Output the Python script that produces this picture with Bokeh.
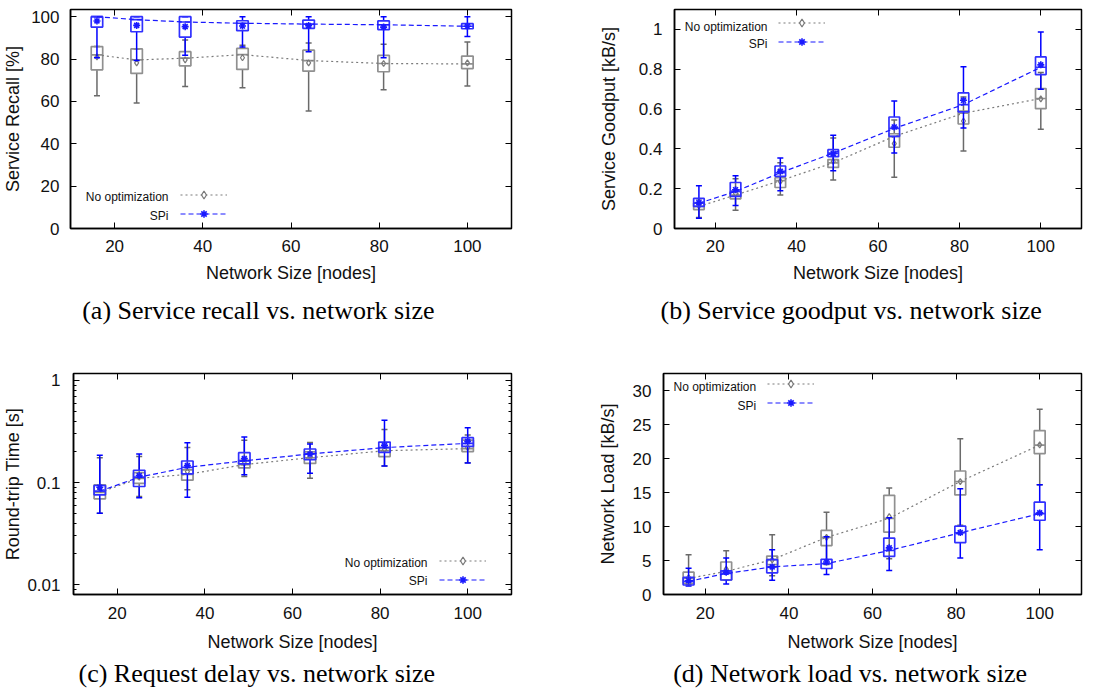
import numpy as np
from bokeh.plotting import figure
from bokeh.models import (Range1d, FixedTicker, LinearAxis, LogAxis, Legend,
                          LegendItem, Label, Title)
from bokeh.layouts import column, row
from bokeh.embed import file_html
from bokeh.resources import INLINE

# ---------------- data ----------------
sizes = [16, 25, 36, 49, 64, 81, 100]

# (a) Service recall [%]
rec_no_lo   = [62.7, 59.2, 67.1, 66.5, 55.5, 65.5, 67.3]
rec_no_q1   = [74.9, 73.2, 76.8, 75.1, 74.3, 74.0, 75.5]
rec_no_med  = [82.0, 79.6, 80.4, 82.1, 79.3, 77.9, 77.7]
rec_no_q3   = [85.9, 84.8, 83.5, 85.0, 84.2, 81.7, 81.4]
rec_no_hi   = [85.9, 84.8, 89.0, 86.5, 87.6, 87.0, 88.1]
rec_no_mean = [81.0, 78.2, 79.6, 80.6, 78.2, 77.9, 78.2]
rec_sp_lo   = [80.6, 79.3, 81.8, 85.7, 83.5, 80.6, 90.6]
rec_sp_q1   = [95.1, 92.9, 90.4, 93.4, 94.5, 93.9, 94.3]
rec_sp_med  = [100.0, 98.6, 97.5, 96.9, 96.5, 96.2, 95.5]
rec_sp_q3   = [100.0, 100.0, 100.0, 98.1, 98.4, 98.0, 96.7]
rec_sp_hi   = [100.0, 100.0, 100.0, 100.0, 100.0, 100.0, 100.0]
rec_sp_mean = [98.0, 95.9, 95.3, 95.6, 95.8, 95.1, 95.5]

# (b) Service goodput [kB/s]
gp_no_lo   = [0.055, 0.092, 0.168, 0.243, 0.257, 0.389, 0.498]
gp_no_q1   = [0.095, 0.149, 0.206, 0.307, 0.408, 0.525, 0.602]
gp_no_med  = [0.111, 0.168, 0.240, 0.330, 0.463, 0.579, 0.653]
gp_no_q3   = [0.127, 0.186, 0.255, 0.346, 0.476, 0.590, 0.703]
gp_no_hi   = [0.150, 0.250, 0.330, 0.455, 0.545, 0.660, 0.783]
gp_no_mean = [0.113, 0.175, 0.237, 0.337, 0.426, 0.540, 0.651]
gp_sp_lo   = [0.052, 0.116, 0.190, 0.290, 0.379, 0.505, 0.700]
gp_sp_q1   = [0.111, 0.161, 0.262, 0.361, 0.463, 0.586, 0.773]
gp_sp_med  = [0.127, 0.186, 0.280, 0.379, 0.503, 0.622, 0.810]
gp_sp_q3   = [0.151, 0.231, 0.314, 0.396, 0.560, 0.681, 0.862]
gp_sp_hi   = [0.215, 0.265, 0.354, 0.468, 0.641, 0.812, 0.987]
gp_sp_mean = [0.130, 0.195, 0.287, 0.376, 0.510, 0.644, 0.822]

# (c) Round-trip time [s]
rt_no_lo   = [0.050, 0.073, 0.0848, 0.1145, 0.110, 0.145, 0.156]
rt_no_q1   = [0.0693, 0.098, 0.1054, 0.139, 0.154, 0.1795, 0.201]
rt_no_med  = [0.080, 0.110, 0.120, 0.150, 0.175, 0.205, 0.215]
rt_no_q3   = [0.095, 0.125, 0.133, 0.165, 0.200, 0.220, 0.260]
rt_no_hi   = [0.175, 0.180, 0.221, 0.260, 0.247, 0.331, 0.292]
rt_no_mean = [0.087, 0.113, 0.128, 0.155, 0.178, 0.210, 0.220]
rt_sp_lo   = [0.0499, 0.0709, 0.0719, 0.119, 0.123, 0.1456, 0.1556]
rt_sp_q1   = [0.0758, 0.0914, 0.1215, 0.152, 0.1675, 0.1977, 0.226]
rt_sp_med  = [0.0823, 0.1128, 0.141, 0.163, 0.1905, 0.220, 0.242]
rt_sp_q3   = [0.0935, 0.132, 0.1626, 0.196, 0.213, 0.249, 0.275]
rt_sp_hi   = [0.185, 0.190, 0.245, 0.279, 0.238, 0.408, 0.344]
rt_sp_mean = [0.090, 0.117, 0.1466, 0.1714, 0.190, 0.231, 0.253]

# (d) Network load [kB/s]
nl_no_lo   = [1.50, 2.10, 2.75, 4.40, 5.26, 10.2, 16.13]
nl_no_q1   = [1.64, 2.13, 4.40, 7.20, 9.18, 14.64, 20.72]
nl_no_med  = [2.37, 3.40, 5.12, 8.40, 11.2, 16.62, 21.98]
nl_no_q3   = [3.28, 4.78, 5.65, 9.42, 14.59, 18.16, 24.10]
nl_no_hi   = [5.84, 6.42, 8.79, 12.1, 15.65, 22.90, 27.25]
nl_no_mean = [2.50, 3.72, 5.10, 8.40, 11.45, 16.60, 22.00]
nl_sp_lo   = [1.26, 1.55, 2.08, 2.94, 3.52, 5.36, 6.57]
nl_sp_q1   = [1.40, 2.13, 3.19, 3.82, 5.60, 7.63, 10.92]
nl_sp_med  = [1.93, 3.09, 4.06, 4.54, 6.47, 9.08, 11.88]
nl_sp_q3   = [2.51, 3.48, 5.12, 5.17, 8.30, 10.05, 13.57]
nl_sp_hi   = [3.86, 5.36, 6.57, 8.50, 11.30, 15.55, 16.13]
nl_sp_mean = [2.03, 3.28, 4.06, 4.78, 6.86, 9.10, 12.00]

x_ticks = [20, 40, 60, 80, 100]
labels = ["No optimization", "SPi"]
x_title = "Network Size [nodes]"

# ---------------- style ----------------
SANS = "Liberation Sans"
SERIF = "Liberation Serif"
TXT = "#111111"
GRAY_BOX, GRAY_WH, GRAY_LINE = "#909090", "#6a6a6a", "#7a7a7a"
BLUE_BOX, BLUE_WH, BLUE_LINE = "#3030ff", "#0000ff", "#1a1aff"
BOXW = 2.6


def style_axis(ax, standoff=11, lab_standoff=5):
    ax.major_tick_in = 6
    ax.major_tick_out = 0
    ax.minor_tick_in = 3
    ax.minor_tick_out = 0
    ax.major_tick_line_color = "black"
    ax.minor_tick_line_color = "black"
    ax.axis_line_color = "black"
    ax.axis_line_width = 1.5
    ax.major_label_text_font = SANS
    ax.major_label_text_font_size = "17px"
    ax.major_label_text_color = TXT
    ax.major_label_standoff = standoff
    ax.axis_label_text_font = SANS
    ax.axis_label_text_font_size = "18px"
    ax.axis_label_text_font_style = "normal"
    ax.axis_label_text_color = TXT
    ax.axis_label_standoff = lab_standoff


def mirror_axis(ax):
    ax.major_tick_in = 6
    ax.major_tick_out = 0
    ax.minor_tick_in = 3
    ax.minor_tick_out = 0
    ax.axis_line_color = None
    ax.major_label_text_font_size = "1px"
    ax.major_label_text_color = None
    ax.major_label_standoff = 0


def panel(geom, yrange, ylabel, yticks, data, caption, leg, ylog=False,
          y_overrides=None, ystand=(11, 5), xstand=(11, 8), minor=None):
    bl, fw, br, bt, fh, bb = geom
    p = figure(width=bl + fw + br, height=bt + fh + bb,
               x_range=Range1d(10, 110), y_range=Range1d(*yrange),
               y_axis_type="log" if ylog else "linear",
               output_backend="svg", toolbar_location=None,
               min_border_left=bl, min_border_right=br,
               min_border_top=bt, min_border_bottom=bb)
    p.xgrid.visible = False
    p.ygrid.visible = False
    p.outline_line_color = "black"
    p.outline_line_width = 1.5
    p.background_fill_color = "white"
    p.border_fill_color = "white"

    yt = FixedTicker(ticks=yticks, minor_ticks=minor or [])
    xt = FixedTicker(ticks=x_ticks, minor_ticks=[])

    p.xaxis.ticker = xt
    p.yaxis.ticker = yt
    p.xaxis.axis_label = x_title
    p.yaxis.axis_label = ylabel
    style_axis(p.xaxis[0], standoff=xstand[0], lab_standoff=xstand[1])
    style_axis(p.yaxis[0], standoff=ystand[0], lab_standoff=ystand[1])
    if y_overrides:
        p.yaxis.major_label_overrides = y_overrides

    top = LinearAxis(ticker=xt)
    mirror_axis(top)
    p.add_layout(top, "above")
    right = LogAxis(ticker=yt) if ylog else LinearAxis(ticker=yt)
    mirror_axis(right)
    p.add_layout(right, "right")

    rends = []
    for key, box_c, wh_c, line_c, dash, marker, msize, mlw in [
            ("no", GRAY_BOX, GRAY_WH, GRAY_LINE, "2 3", "diamond", 6, 1.2),
            ("sp", BLUE_BOX, BLUE_WH, BLUE_LINE, "5 3", "asterisk", 7, 1.6)]:
        lo, q1, med, q3, hi, mean = data[key]
        p.segment(x0=sizes, y0=q3, x1=sizes, y1=hi, line_color=wh_c, line_width=1.5)
        p.segment(x0=sizes, y0=lo, x1=sizes, y1=q1, line_color=wh_c, line_width=1.5)
        p.scatter(x=sizes, y=hi, marker="dash", size=6, line_color=wh_c, line_width=1.5)
        p.scatter(x=sizes, y=lo, marker="dash", size=6, line_color=wh_c, line_width=1.5)
        p.vbar(x=sizes, width=BOXW, bottom=q1, top=q3, fill_color=None,
               line_color=box_c, line_width=1.7)
        p.vbar(x=sizes, width=BOXW, bottom=med, top=med, fill_color=None,
               line_color=box_c, line_width=1.7)
        rl = p.line(x=sizes, y=med, line_color=line_c, line_width=1.2, line_dash=dash)
        rm = p.scatter(x=sizes, y=mean, marker=marker, size=msize,
                       line_color=line_c, fill_color=None, line_width=mlw)
        rends.append([rl, rm])

    lx, ly, tx, ty1, ty2 = leg
    legend = Legend(items=[LegendItem(label=" ", renderers=rends[0]),
                           LegendItem(label=" ", renderers=rends[1])],
                    location=(lx, ly), glyph_width=47, glyph_height=19,
                    label_height=19, label_width=0, label_standoff=0,
                    label_text_font_size="12px",
                    spacing=0, padding=0, margin=0,
                    background_fill_alpha=0, border_line_color=None)
    p.add_layout(legend)
    for txt, ty in zip(labels, (ty1, ty2)):
        p.add_layout(Label(x=tx, y=ty, x_units="screen", y_units="screen",
                           text=txt, text_align="right", text_baseline="middle",
                           text_font=SANS, text_font_size="12px", text_color=TXT))

    coff, cstand, ctext = caption
    p.add_layout(Title(text=ctext, align="left", offset=coff, standoff=cstand,
                       vertical_align="middle", text_font=SERIF,
                       text_font_size="26px", text_font_style="normal",
                       text_color="black"), "below")
    return p


# geometry: (border_left, frame_w, border_right, border_top, frame_h, border_bottom)
pa = panel((70, 441, 49, 8, 220, 117), (0, 103.4), "Service Recall [%]",
           [0, 20, 40, 60, 80, 100],
           {"no": (rec_no_lo, rec_no_q1, rec_no_med, rec_no_q3, rec_no_hi, rec_no_mean),
            "sp": (rec_sp_lo, rec_sp_q1, rec_sp_med, rec_sp_q3, rec_sp_hi, rec_sp_mean)},
           (11.7, 19, "(a) Service recall vs. network size"),
           (110, 5, 98, 31.3, 12.3), ystand=(11, 5))

pb = panel((114, 407, 35, 9, 219, 117), (0, 1.1), "Service Goodput [kB/s]",
           [0, 0.2, 0.4, 0.6, 0.8, 1.0],
           {"no": (gp_no_lo, gp_no_q1, gp_no_med, gp_no_q3, gp_no_hi, gp_no_mean),
            "sp": (gp_sp_lo, gp_sp_q1, gp_sp_med, gp_sp_q3, gp_sp_hi, gp_sp_mean)},
           (-14, 19, "(b) Service goodput vs. network size"),
           (104, 177, 93, 201.7, 184.4), y_overrides={0: "0", 1: "1"},
           ystand=(12, 17))

log_minor = [m * d for d in (0.001, 0.01, 0.1) for m in range(2, 10)]
pc = panel((72, 439, 49, 27, 222, 100), (0.008, 1.17), "Round-trip Time [s]",
           [0.01, 0.1, 1],
           {"no": (rt_no_lo, rt_no_q1, rt_no_med, rt_no_q3, rt_no_hi, rt_no_mean),
            "sp": (rt_sp_lo, rt_sp_q1, rt_sp_med, rt_sp_q3, rt_sp_hi, rt_sp_mean)},
           (5, 7, "(c) Request delay vs. network size"),
           (366, 5, 354, 31.6, 13.3), ylog=True,
           y_overrides={0.01: "0.01", 0.1: "0.1", 1: "1"},
           ystand=(13, 1), xstand=(12, 10), minor=log_minor)

pd_ = panel((103, 418, 35, 28, 224, 97), (0, 32.5), "Network Load [kB/s]",
            [0, 5, 10, 15, 20, 25, 30],
            {"no": (nl_no_lo, nl_no_q1, nl_no_med, nl_no_q3, nl_no_hi, nl_no_mean),
             "sp": (nl_sp_lo, nl_sp_q1, nl_sp_med, nl_sp_q3, nl_sp_hi, nl_sp_mean)},
            (9.7, 6, "(d) Network load vs. network size"),
            (104, 182, 92.7, 207.7, 189), ystand=(12, 12), xstand=(12, 10))

layout = column(row(pa, pb), row(pc, pd_))

with open("out.html", "w") as f:
    f.write(file_html(layout, INLINE))
